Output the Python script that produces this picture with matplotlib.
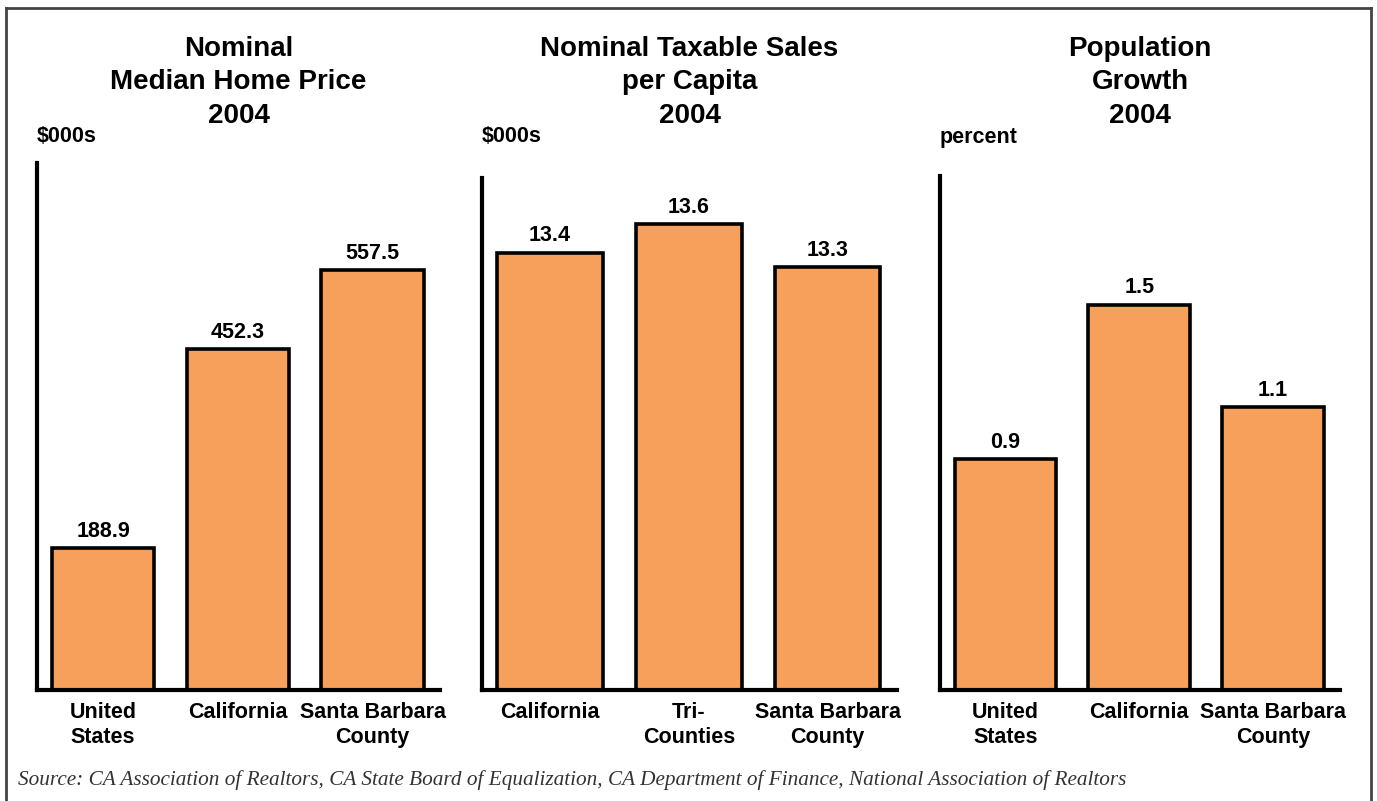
import matplotlib.pyplot as plt
from matplotlib.lines import Line2D

plt.rcParams["font.family"] = ["Liberation Sans", "DejaVu Sans"]

BAR_COLOR = "#F6A05C"

home_titles = "Nominal\nMedian Home Price\n2004"
home_labels = ["United\nStates", "California", "Santa Barbara\nCounty"]
home_values = [188.9, 452.3, 557.5]

sales_titles = "Nominal Taxable Sales\nper Capita\n2004"
sales_labels = ["California", "Tri-\nCounties", "Santa Barbara\nCounty"]
sales_values = [13.4, 13.6, 13.3]

pop_titles = "Population\nGrowth\n2004"
pop_labels = ["United\nStates", "California", "Santa Barbara\nCounty"]
pop_values = [0.9, 1.5, 1.1]

source_text = ("Source: CA Association of Realtors, CA State Board of Equalization, "
               "CA Department of Finance, National Association of Realtors")

W, H = 1377, 801


def px_axes(fig, left, right, top, bottom=690):
    return fig.add_axes([left / W, (H - bottom) / H, (right - left) / W, (bottom - top) / H])


def draw_panel(fig, ax, title, unit, labels, values, ylim):
    x = range(len(values))
    ax.bar(x, values, width=0.76, color=BAR_COLOR, edgecolor="black", linewidth=2.6, zorder=2)
    ax.set_xlim(-0.49, 2.5)
    ax.set_ylim(*ylim)
    for s in ("top", "right"):
        ax.spines[s].set_visible(False)
    for s in ("left", "bottom"):
        ax.spines[s].set_linewidth(3.0)
        ax.spines[s].set_zorder(3)
    ax.set_yticks([])
    ax.set_xticks(list(x))
    ax.set_xticklabels(labels, fontsize=15.5, fontweight="bold", linespacing=1.22)
    ax.tick_params(axis="x", length=0, pad=9)
    for xi, v in zip(x, values):
        ax.annotate(f"{v:.1f}", (xi, v), xytext=(0, 8), textcoords="offset points",
                    ha="center", va="baseline", fontsize=15.5, fontweight="bold")

    # title and unit rows line up across panels, so place them in figure coords
    pos = ax.get_position()
    fig.text(pos.x0 + pos.width / 2, (H - 129) / H, title, ha="center", va="bottom",
             fontsize=20, fontweight="bold", linespacing=1.38)
    fig.text(pos.x0, (H - 137) / H, unit, ha="left", va="center",
             fontsize=15.5, fontweight="bold")


fig = plt.figure(figsize=(W / 100, H / 100), dpi=100)

ax1 = px_axes(fig, 37, 440, 163)
ax2 = px_axes(fig, 482, 897, 178)
ax3 = px_axes(fig, 940, 1340, 176)

draw_panel(fig, ax1, home_titles, "$000s", home_labels, home_values, (0, 700))
draw_panel(fig, ax2, sales_titles, "$000s", sales_labels, sales_values, (10.35, 13.92))
draw_panel(fig, ax3, pop_titles, "percent", pop_labels, pop_values, (0, 2.0))

fig.text(18 / W, (H - 780) / H, source_text, ha="left", va="center", fontsize=15.3,
         fontstyle="italic", family=["Liberation Serif", "DejaVu Serif"], color="#333333")

# frame around the figure (open at the bottom edge)
frame_kw = dict(color="#444444", linewidth=2.0, transform=fig.transFigure)
fig.add_artist(Line2D([6 / W, 6 / W], [0, (H - 8) / H], **frame_kw))
fig.add_artist(Line2D([6 / W, 1371 / W], [(H - 8) / H, (H - 8) / H], **frame_kw))
fig.add_artist(Line2D([1371 / W, 1371 / W], [0, (H - 8) / H], **frame_kw))

fig.savefig("out.png", dpi=100)
